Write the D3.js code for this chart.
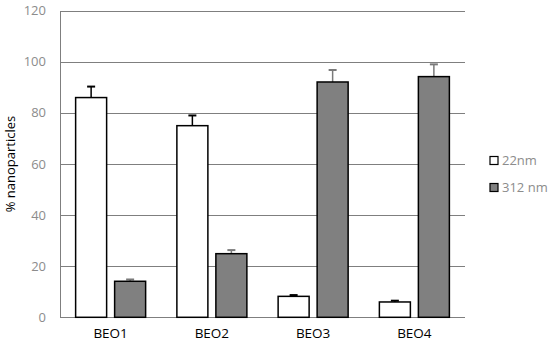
<!DOCTYPE html>
<meta charset="utf-8">
<script src="https://cdn.jsdelivr.net/npm/d3@7"></script>
<style>
body { margin: 0; background: #fff; }
text { font-family: "Open Sans", "Noto Sans", sans-serif; }
</style>
<body>
<script>

var categories = ["BEO1", "BEO2", "BEO3", "BEO4"]
var seriesNames = ["22nm", "312 nm"]
var small = [86, 75, 8.2, 6]
var smallErr = [4.3, 4, 0.5, 0.5]
var large = [14.1, 24.9, 92.1, 94.2]
var largeErr = [0.7, 1.4, 4.7, 4.8]
var yTicks = [0, 20, 40, 60, 80, 100, 120]

var width = 550
var height = 347

var x = d3.scaleBand().domain(categories).range([60, 465]).paddingInner(0).paddingOuter(0)
var y = d3.scaleLinear().domain([0, 120]).range([317.3, 10.7])

var barW = 31
var gap = 8

var svg = d3.select("body").append("svg")
            .attr("width", width)
            .attr("height", height)

// gridlines
svg.append("g").selectAll("line").data(yTicks).enter().append("line")
   .attr("x1", 60).attr("x2", 465)
   .attr("y1", function(d) { return Math.round(y(d)) + 0.5 })
   .attr("y2", function(d) { return Math.round(y(d)) + 0.5 })
   .attr("stroke", "#7f7f7f").attr("stroke-width", 1)

svg.append("line")
   .attr("x1", 60.5).attr("x2", 60.5)
   .attr("y1", Math.round(y(120)) + 0.5).attr("y2", Math.round(y(0)) + 0.5)
   .attr("stroke", "#7f7f7f")

svg.append("g").selectAll("text").data(yTicks).enter().append("text")
   .attr("x", 46).attr("y", function(d) { return y(d) + 4.5 })
   .attr("text-anchor", "end")
   .attr("font-size", 13)
   .attr("fill", "#8c8c8c")
   .text(function(d) { return d })

var series = [
  { name: seriesNames[0], vals: small, err: smallErr, fill: "#ffffff", errColor: "#000", offset: 0 },
  { name: seriesNames[1], vals: large, err: largeErr, fill: "#808080", errColor: "#7a7a7a", offset: barW + gap }
]

var groupOffset = (x.bandwidth() - (2 * barW + gap)) / 2

series.forEach(function(s) {
  var g = svg.append("g")
  // error bars
  g.selectAll("line.err").data(categories).enter().append("line")
   .attr("x1", function(d) { return x(d) + groupOffset + s.offset + barW / 2 })
   .attr("x2", function(d) { return x(d) + groupOffset + s.offset + barW / 2 })
   .attr("y1", function(d, i) { return y(s.vals[i]) })
   .attr("y2", function(d, i) { return y(s.vals[i] + s.err[i]) })
   .attr("stroke", s.errColor).attr("stroke-width", 1.5)
  g.selectAll("line.cap").data(categories).enter().append("line")
   .attr("x1", function(d) { return x(d) + groupOffset + s.offset + barW / 2 - 4 })
   .attr("x2", function(d) { return x(d) + groupOffset + s.offset + barW / 2 + 4 })
   .attr("y1", function(d, i) { return y(s.vals[i] + s.err[i]) })
   .attr("y2", function(d, i) { return y(s.vals[i] + s.err[i]) })
   .attr("stroke", s.errColor).attr("stroke-width", 2)
  g.selectAll("rect").data(categories).enter().append("rect")
   .attr("x", function(d) { return x(d) + groupOffset + s.offset })
   .attr("y", function(d, i) { return y(s.vals[i]) })
   .attr("width", barW)
   .attr("height", function(d, i) { return y(0) - y(s.vals[i]) })
   .attr("fill", s.fill)
   .attr("stroke", "#000").attr("stroke-width", 1.5)
})

svg.append("g").selectAll("text").data(categories).enter().append("text")
   .attr("x", function(d) { return x(d) + x.bandwidth() / 2 })
   .attr("y", 338)
   .attr("text-anchor", "middle")
   .attr("font-size", 13.5)
   .attr("fill", "#000")
   .text(function(d) { return d })

svg.append("text")
   .attr("transform", "translate(15," + ((y(0) + y(120)) / 2) + ") rotate(-90)")
   .attr("text-anchor", "middle")
   .attr("font-size", 13)
   .attr("fill", "#000")
   .text("% nanoparticles")

// legend
var legend = svg.append("g").selectAll("g").data(series).enter().append("g")
   .attr("transform", function(d, i) { return "translate(494," + (160.5 + i * 27) + ")" })
legend.append("rect")
   .attr("x", -4).attr("y", -4).attr("width", 8).attr("height", 8)
   .attr("fill", function(d) { return d.fill })
   .attr("stroke", "#000").attr("stroke-width", 1.2)
legend.append("text")
   .attr("x", 8).attr("y", 4.5)
   .attr("font-size", 13)
   .attr("fill", "#8c8c8c")
   .text(function(d) { return d.name })

</script>
</body>
